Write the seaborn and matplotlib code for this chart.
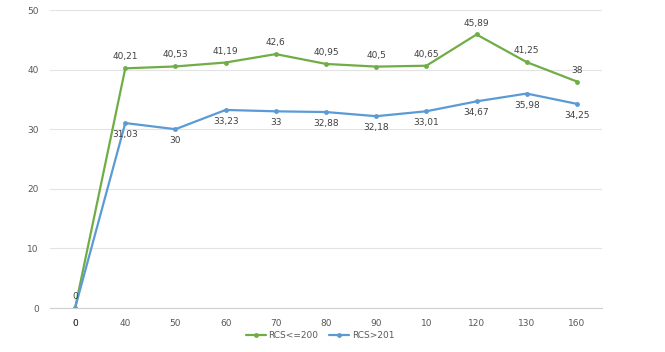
import numpy as np
import pandas as pd
import matplotlib
matplotlib.use("Agg")
import matplotlib.pyplot as plt
import seaborn as sns

categories = ["0", "40", "50", "60", "70", "80", "90", "10", "120", "130", "160"]
rcs_low = [0, 40.21, 40.53, 41.19, 42.6, 40.95, 40.5, 40.65, 45.89, 41.25, 38]
rcs_high = [0, 31.03, 30, 33.23, 33, 32.88, 32.18, 33.01, 34.67, 35.98, 34.25]
series_names = ["RCS<=200", "RCS>201"]
colors = ["#70AD47", "#5B9BD5"]

sns.set_style("white")
plt.rcParams["font.family"] = ["DejaVu Sans"]

pos = np.arange(len(categories))
df = pd.DataFrame({
    "pos": np.concatenate([pos, pos]),
    "value": rcs_low + rcs_high,
    "series": [series_names[0]] * len(pos) + [series_names[1]] * len(pos),
})

fig = plt.figure(figsize=(6.65, 3.52), dpi=100)
ax = fig.add_axes([50 / 665, 1 - 308 / 352, 552 / 665, 298 / 352])

sns.lineplot(data=df, x="pos", y="value", hue="series", palette=colors,
             marker="o", markersize=3.5, markeredgewidth=0, linewidth=1.6,
             ax=ax, legend=True)

txt = "#404040"
for i, v in enumerate(rcs_low):
    ax.annotate(f"{v:g}".replace(".", ","), (pos[i], v), xytext=(0, 5),
                textcoords="offset points", ha="center", va="bottom",
                fontsize=6.5, color=txt)
for i, v in enumerate(rcs_high):
    # the zero label sits on the category tick label, as in the original
    off = -8 if v == 0 else -5
    ax.annotate(f"{v:g}".replace(".", ","), (pos[i], v), xytext=(0, off),
                textcoords="offset points", ha="center", va="top",
                fontsize=6.5, color=txt)

ax.set_xlim(-0.5, len(categories) - 0.5)
ax.set_ylim(0, 50)
ax.set_yticks(range(0, 51, 10))
ax.set_xticks(pos)
ax.set_xticklabels(categories)
ax.tick_params(axis="both", labelsize=6.5, colors="#595959", length=0, pad=8)
ax.yaxis.grid(True, color="#e3e3e3", linewidth=0.8)
ax.set_axisbelow(True)
for s in ["top", "right", "left"]:
    ax.spines[s].set_visible(False)
ax.spines["bottom"].set_color("#d0d0d0")
ax.set_xlabel("")
ax.set_ylabel("")

handles, labels = ax.get_legend_handles_labels()
ax.legend(handles, labels, loc="center", bbox_to_anchor=(320 / 665, 1 - 336 / 352),
          bbox_transform=fig.transFigure, ncol=2, frameon=False, fontsize=6.5,
          handlelength=2.2, columnspacing=1.2, handletextpad=0.3, labelcolor="#595959")

fig.savefig("out.png", dpi=100)
